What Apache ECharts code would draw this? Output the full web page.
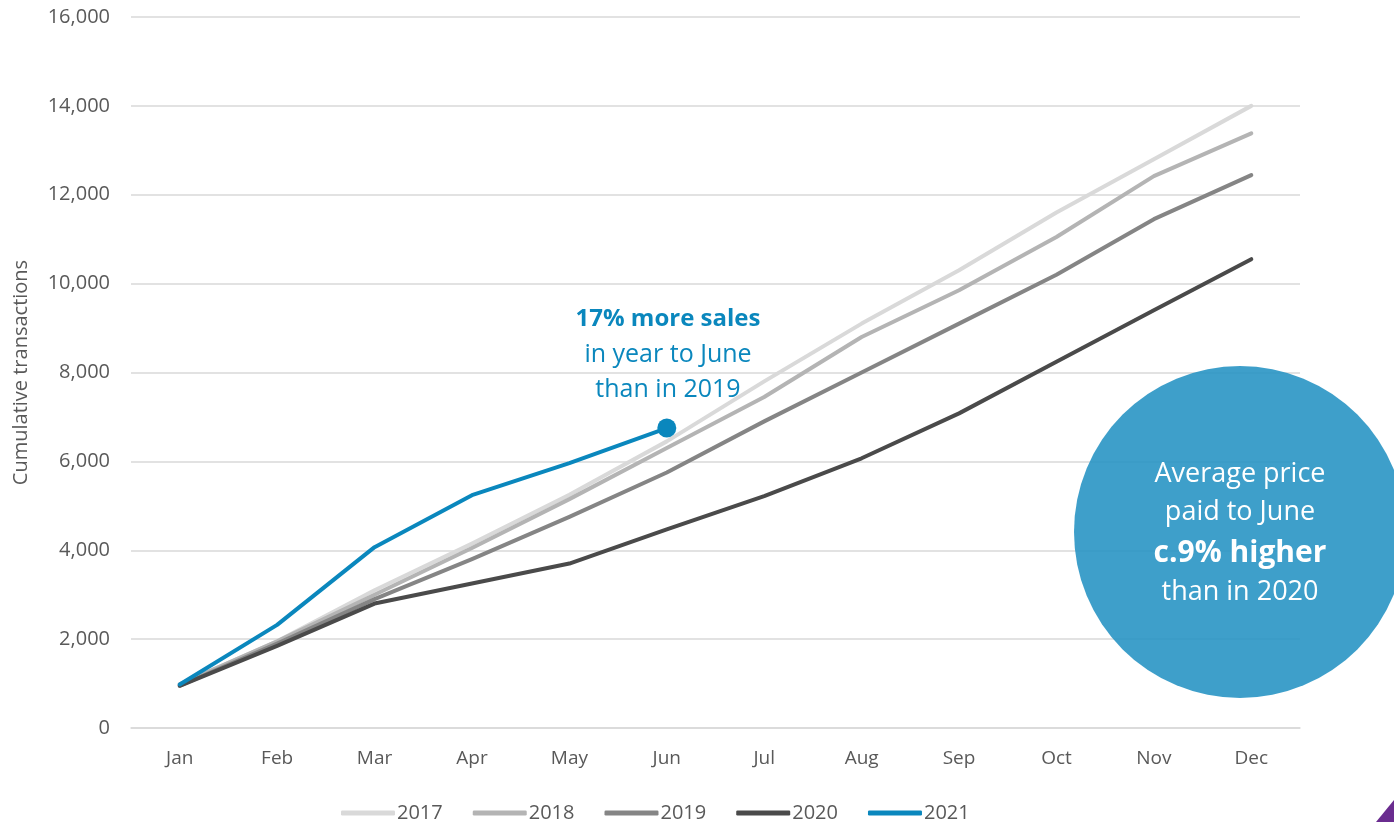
<!DOCTYPE html>
<html>
<head>
<meta charset="utf-8">
<script src="https://cdn.jsdelivr.net/npm/echarts@6/dist/echarts.min.js"></script>
<style>
  html, body { margin: 0; padding: 0; background: #fff; }
  #chart { width: 1394px; height: 822px; }
</style>
</head>
<body>
<div id="chart"></div>
<script>
// months on the x axis
const months = ['Jan', 'Feb', 'Mar', 'Apr', 'May', 'Jun', 'Jul', 'Aug', 'Sep', 'Oct', 'Nov', 'Dec'];

// cumulative transactions per year
const y2017 = [980, 1950, 3100, 4150, 5250, 6450, 7800, 9100, 10300, 11600, 12800, 14000];
const y2018 = [980, 1950, 3000, 4050, 5150, 6300, 7450, 8800, 9850, 11050, 12420, 13380];
const y2019 = [950, 1900, 2900, 3800, 4750, 5750, 6900, 8000, 9100, 10200, 11450, 12440];
const y2020 = [950, 1850, 2800, 3250, 3700, 4470, 5220, 6070, 7080, 8240, 9400, 10550];
const y2021 = [980, 2320, 4070, 5240, 5960, 6750];

const yearNames = ['2017', '2018', '2019', '2020', '2021'];
const yearColors = ['#d9d9d9', '#b4b4b4', '#858585', '#4a4a4a', '#0a87bd'];

var chart = echarts.init(document.getElementById('chart'), null, { renderer: 'canvas' });

function lineSeries(i, data) {
  return {
    name: yearNames[i],
    type: 'line',
    data: data,
    symbol: 'none',
    smooth: false,
    lineStyle: { color: yearColors[i], width: 4, cap: 'round', join: 'round' },
    itemStyle: { color: yearColors[i] },
    z: 2 + i
  };
}

// last point of 2021 gets the dot
const data2021 = y2021.map((v, i) => i === y2021.length - 1
  ? { value: v, symbol: 'circle', symbolSize: 19 }
  : v);

var option = {
  backgroundColor: '#ffffff',
  animation: false,
  textStyle: { fontFamily: '"Open Sans", "Noto Sans", sans-serif' },
  grid: { left: 131, right: 94, top: 17, bottom: 94, containLabel: false },
  legend: {
    top: 798,
    left: 336,
    itemWidth: 54,
    itemHeight: 5,
    itemGap: 30,
    icon: 'roundRect',
    textStyle: { fontSize: 20, color: '#595959', padding: [0, 0, 0, -3] },
    data: yearNames
  },
  xAxis: {
    type: 'category',
    data: months,
    boundaryGap: true,
    axisLine: { show: true, lineStyle: { color: '#d9d9d9', width: 1.5 } },
    axisTick: { show: false },
    axisLabel: { color: '#595959', fontSize: 19, margin: 21 }
  },
  yAxis: {
    type: 'value',
    min: 0,
    max: 16000,
    interval: 2000,
    name: 'Cumulative transactions',
    nameLocation: 'middle',
    nameGap: 100,
    nameTextStyle: { color: '#595959', fontSize: 20 },
    axisLine: { show: false },
    axisTick: { show: false },
    axisLabel: {
      color: '#595959',
      fontSize: 20,
      margin: 21,
      formatter: v => v.toLocaleString('en-US')
    },
    splitLine: { lineStyle: { color: '#d9d9d9', width: 1.5 } }
  },
  series: [
    lineSeries(0, y2017),
    lineSeries(1, y2018),
    lineSeries(2, y2019),
    lineSeries(3, y2020),
    Object.assign(lineSeries(4, data2021), { z: 10 })
  ],
  graphic: [
    {
      type: 'text',
      x: 668, y: 319,
      style: {
        text: '17% more sales',
        fill: '#0a87bd',
        font: 'bold 24px "Open Sans", sans-serif',
        align: 'center',
        verticalAlign: 'middle'
      }
    },
    {
      type: 'text',
      x: 668, y: 372,
      style: {
        text: 'in year to June\nthan in 2019',
        fill: '#0a87bd',
        font: '25px "Open Sans", sans-serif',
        lineHeight: 35,
        align: 'center',
        verticalAlign: 'middle'
      }
    },
    {
      type: 'circle',
      shape: { cx: 1240, cy: 532, r: 166 },
      style: { fill: 'rgba(41,149,196,0.9)' },
      z: 20
    },
    {
      type: 'text',
      x: 1240, y: 493,
      z: 21,
      style: {
        text: 'Average price\npaid to June',
        fill: '#ffffff',
        font: '27px "Open Sans", sans-serif',
        lineHeight: 38,
        align: 'center',
        verticalAlign: 'middle'
      }
    },
    {
      type: 'text',
      x: 1240, y: 553,
      z: 21,
      style: {
        text: 'c.9% higher',
        fill: '#ffffff',
        font: 'bold 30px "Open Sans", sans-serif',
        align: 'center',
        verticalAlign: 'middle'
      }
    },
    {
      type: 'text',
      x: 1240, y: 592,
      z: 21,
      style: {
        text: 'than in 2020',
        fill: '#ffffff',
        font: '27px "Open Sans", sans-serif',
        align: 'center',
        verticalAlign: 'middle'
      }
    },
    {
      type: 'polygon',
      shape: { points: [[1394, 800], [1394, 822], [1376, 822]] },
      style: { fill: '#6a2c8f' },
      z: 21
    }
  ]
};

chart.setOption(option);
</script>
</body>
</html>
